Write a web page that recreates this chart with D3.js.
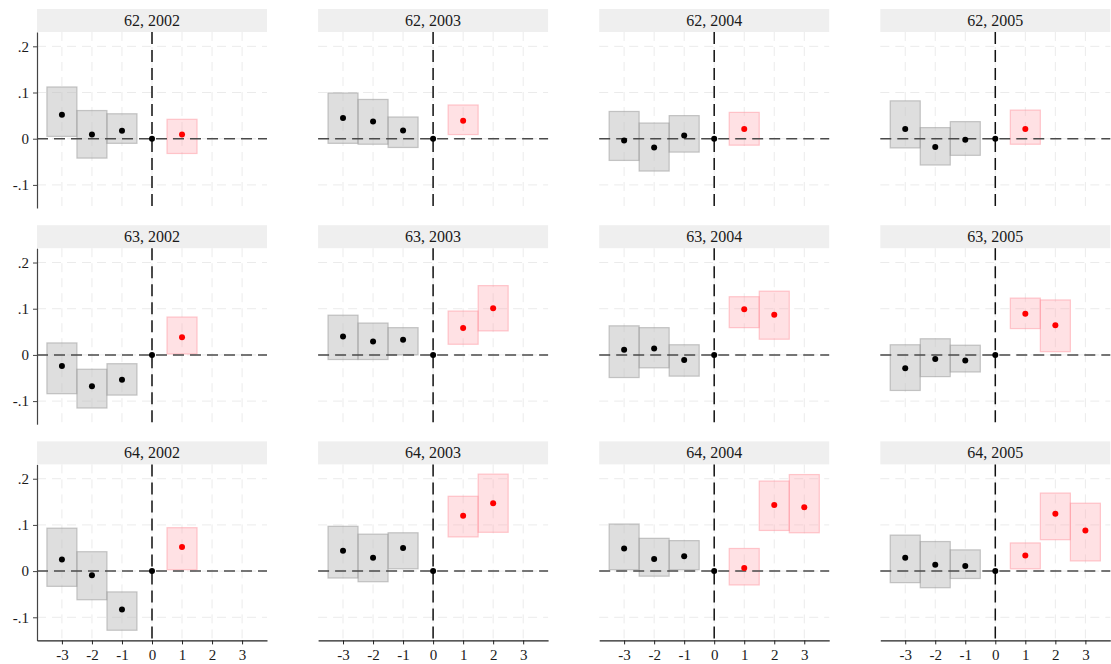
<!DOCTYPE html>
<html><head><meta charset="utf-8">
<script src="https://cdn.jsdelivr.net/npm/d3@7"></script>
<style>body{margin:0;background:#fff}svg{display:block} text{font-family:'Liberation Serif','Times New Roman',serif !important;}</style>
</head><body>
<script>
const regions = ["62", "63", "64"];
const years = ["2002", "2003", "2004", "2005"];
const preX = [-3, -2, -1];
const xTicks = [-3, -2, -1, 0, 1, 2, 3];
const xTickLabels = ["-3", "-2", "-1", "0", "1", "2", "3"];
const yTicks = [-0.1, 0, 0.1, 0.2];
const yTickLabels = ["-.1", "0", ".1", ".2"];

// panels ordered row by row (region), then year
const preEst = [
  [0.052, 0.009, 0.017], [0.045, 0.037, 0.018], [-0.004, -0.019, 0.007], [0.021, -0.018, -0.002],
  [-0.024, -0.068, -0.054], [0.040, 0.029, 0.033], [0.011, 0.014, -0.011], [-0.029, -0.009, -0.012],
  [0.025, -0.009, -0.083], [0.044, 0.029, 0.050], [0.049, 0.026, 0.032], [0.029, 0.014, 0.011]
];
const preLo = [
  [0.005, -0.042, -0.010], [-0.010, -0.012, -0.019], [-0.047, -0.070, -0.029], [-0.020, -0.057, -0.036],
  [-0.084, -0.115, -0.087], [-0.010, -0.010, 0.000], [-0.049, -0.028, -0.046], [-0.077, -0.047, -0.037],
  [-0.033, -0.062, -0.128], [-0.015, -0.023, 0.005], [0.003, -0.011, 0.003], [-0.025, -0.036, -0.016]
];
const preHi = [
  [0.112, 0.061, 0.054], [0.099, 0.085, 0.047], [0.059, 0.034, 0.050], [0.082, 0.024, 0.037],
  [0.026, -0.031, -0.019], [0.086, 0.069, 0.059], [0.063, 0.059, 0.022], [0.022, 0.035, 0.021],
  [0.093, 0.042, -0.045], [0.097, 0.080, 0.083], [0.102, 0.071, 0.066], [0.078, 0.064, 0.046]
];
const postEst = [
  [0.009], [0.039], [0.021], [0.021],
  [0.038], [0.058, 0.101], [0.099, 0.087], [0.089, 0.064],
  [0.052], [0.120, 0.147], [0.007, 0.143, 0.138], [0.034, 0.124, 0.088]
];
const postLo = [
  [-0.032], [0.009], [-0.014], [-0.012],
  [0.002], [0.023, 0.052], [0.059, 0.034], [0.057, 0.007],
  [0.003], [0.074, 0.084], [-0.030, 0.088, 0.083], [0.005, 0.068, 0.022]
];
const postHi = [
  [0.042], [0.073], [0.057], [0.062],
  [0.082], [0.095, 0.150], [0.126, 0.138], [0.123, 0.119],
  [0.094], [0.162, 0.210], [0.049, 0.195, 0.209], [0.061, 0.169, 0.147]
];

const W = 1111, H = 664;
const svg = d3.select("body").append("svg").attr("width", W).attr("height", H);

const pw = 230, ph = 176, colStep = 281.1, rowStep = 216.2;
const left0 = 37, top0 = 32, stripH = 23;

const x = d3.scaleLinear().domain([-3.83, 3.83]).range([0, pw]);
const y = d3.scaleLinear().domain([-0.150, 0.231]).range([ph, 0]);

regions.forEach((reg, r) => {
  years.forEach((yr, c) => {
    const i = r * years.length + c;
    const g = svg.append("g").attr("transform", `translate(${left0 + c * colStep},${top0 + r * rowStep})`);

    // strip
    g.append("rect").attr("x", 0).attr("y", -stripH).attr("width", pw).attr("height", stripH).attr("fill", "#efefef");
    g.append("text").attr("x", pw / 2).attr("y", -6).attr("text-anchor", "middle")
      .attr("font-size", 16).attr("fill", "#1a1a1a").text(`${reg}, ${yr}`);

    // grid
    g.append("g").selectAll("line").data(xTicks).join("line")
      .attr("x1", d => x(d)).attr("x2", d => x(d)).attr("y1", 0).attr("y2", ph)
      .attr("stroke", "#ebebeb").attr("stroke-width", 1).attr("stroke-dasharray", "9,6");
    g.append("g").selectAll("line").data(yTicks).join("line")
      .attr("x1", 0).attr("x2", pw).attr("y1", d => y(d)).attr("y2", d => y(d))
      .attr("stroke", "#ebebeb").attr("stroke-width", 1).attr("stroke-dasharray", "9,6");

    const pre = preX.map((xv, k) => ({ x: xv, est: preEst[i][k], lo: preLo[i][k], hi: preHi[i][k] }));
    const post = postEst[i].map((e, k) => ({ x: k + 1, est: e, lo: postLo[i][k], hi: postHi[i][k] }));

    g.append("g").selectAll("rect").data(pre).join("rect")
      .attr("x", d => x(d.x - 0.5)).attr("width", x(0.5) - x(-0.5))
      .attr("y", d => y(d.hi)).attr("height", d => y(d.lo) - y(d.hi))
      .attr("fill", "rgba(190,190,190,0.5)").attr("stroke", "rgba(150,150,150,0.5)").attr("stroke-width", 1.2);
    g.append("g").selectAll("rect").data(post).join("rect")
      .attr("x", d => x(d.x - 0.5)).attr("width", x(0.5) - x(-0.5))
      .attr("y", d => y(d.hi)).attr("height", d => y(d.lo) - y(d.hi))
      .attr("fill", "rgba(255,170,178,0.35)").attr("stroke", "rgba(255,140,150,0.45)").attr("stroke-width", 1.2);

    // reference lines
    g.append("line").attr("x1", 0).attr("x2", pw).attr("y1", y(0)).attr("y2", y(0))
      .attr("stroke", "#4a4a4a").attr("stroke-width", 1.5).attr("stroke-dasharray", "11,6");
    g.append("line").attr("x1", x(0)).attr("x2", x(0)).attr("y1", 0).attr("y2", ph)
      .attr("stroke", "#111").attr("stroke-width", 1.5).attr("stroke-dasharray", "12,6");

    // points
    g.append("g").selectAll("circle").data(pre).join("circle")
      .attr("cx", d => x(d.x)).attr("cy", d => y(d.est)).attr("r", 3).attr("fill", "#000");
    g.append("circle").attr("cx", x(0)).attr("cy", y(0)).attr("r", 3).attr("fill", "#000");
    g.append("g").selectAll("circle").data(post).join("circle")
      .attr("cx", d => x(d.x)).attr("cy", d => y(d.est)).attr("r", 3).attr("fill", "#ff0000");

    // axes
    if (c === 0) {
      const ya = d3.axisLeft(y).tickValues(yTicks).tickSize(4).tickSizeOuter(0).tickPadding(4)
        .tickFormat((d, k) => yTickLabels[k]);
      const ag = g.append("g").call(ya);
      ag.select(".domain").attr("stroke", "#444").attr("stroke-width", 1.2);
      ag.selectAll(".tick line").attr("stroke", "#444");
      ag.selectAll("text").attr("font-size", 15).attr("fill", "#1a1a1a");
    }
    if (r === regions.length - 1) {
      const xa = d3.axisBottom(x).tickValues(xTicks).tickSize(4).tickSizeOuter(0).tickPadding(5)
        .tickFormat((d, k) => xTickLabels[k]);
      const ag = g.append("g").attr("transform", `translate(0,${ph})`).call(xa);
      ag.select(".domain").attr("stroke", "#222").attr("stroke-width", 1.2);
      ag.selectAll(".tick line").attr("stroke", "#222");
      ag.selectAll("text").attr("font-size", 15).attr("fill", "#1a1a1a");
    }
  });
});
</script>
</body></html>
